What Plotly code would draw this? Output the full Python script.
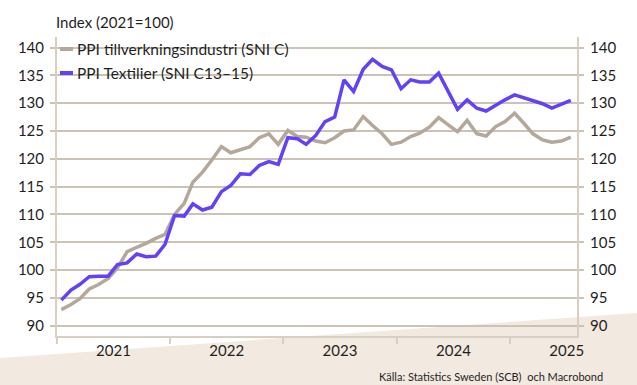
import pandas as pd
import plotly.graph_objects as go

# ---- data ----
months = pd.date_range("2021-01-01", periods=55, freq="MS") + pd.Timedelta(days=14)

ppi_tillverkning = [92.9, 93.8, 94.8, 96.6, 97.4, 98.5, 100.4, 103.3, 104.1, 104.8, 105.7, 106.4,
                    110.0, 112.0, 115.8, 117.6, 119.8, 122.2, 121.1, 121.6, 122.2, 123.8, 124.5, 122.6,
                    125.1, 124.0, 123.9, 123.2, 122.9, 123.8, 125.0, 125.2, 127.6, 126.0, 124.5, 122.6,
                    123.0, 124.0, 124.6, 125.7, 127.4, 126.1, 124.9, 126.9, 124.5, 124.1, 125.8, 126.7,
                    128.2, 126.3, 124.5, 123.4, 123.0, 123.2, 123.9]

ppi_textil = [94.6, 96.4, 97.4, 98.8, 98.9, 98.9, 101.0, 101.3, 102.9, 102.4, 102.5, 104.6,
              109.8, 109.7, 111.9, 110.8, 111.3, 114.1, 115.2, 117.3, 117.2, 118.8, 119.5, 119.0,
              123.8, 123.6, 122.6, 124.2, 126.7, 127.5, 134.2, 132.1, 136.1, 137.9, 136.6, 136.0,
              132.6, 134.2, 133.8, 133.8, 135.4, 132.0, 128.9, 130.6, 129.1, 128.6, 129.7, 130.6,
              131.5, 131.0, 130.4, 129.9, 129.1, 129.8, 130.5]

series_names = ["PPI tillverkningsindustri (SNI C)", "PPI Textilier (SNI C13–15)"]
year_labels = ["2021", "2022", "2023", "2024", "2025"]
year_label_pos = ["2021-07-02", "2022-07-02", "2023-07-02", "2024-07-02", "2025-07-02"]
y_ticks = [90, 95, 100, 105, 110, 115, 120, 125, 130, 135, 140]

GREY = "#B3A899"
BLUE = "#6440F7"
GRID = "#CCC3B7"
AXIS = "#D8CFC3"
TXT = "#1f1f1f"
FONT = "Lato"

fig = go.Figure()
fig.add_trace(go.Scatter(x=months, y=ppi_tillverkning, mode="lines", name=series_names[0],
                         line=dict(color=GREY, width=3.5), yaxis="y", showlegend=False))
fig.add_trace(go.Scatter(x=months, y=ppi_textil, mode="lines", name=series_names[1],
                         line=dict(color=BLUE, width=3.5), yaxis="y2", showlegend=False))

yr = [88.15, 141.9]
L, R, T, B, W, H = 57, 60, 37, 49, 637, 385
pw = W - L - R
ph = H - T - B


def px(xp):
    return (xp - L) / pw


def py(yp):
    return (H - B - yp) / ph


fig.update_layout(
    width=W, height=H,
    margin=dict(l=L, r=R, t=T, b=B, pad=0),
    paper_bgcolor="white",
    plot_bgcolor="rgba(0,0,0,0)",
    font=dict(family=FONT, size=15, color=TXT),
    showlegend=False,
    xaxis=dict(
        type="date",
        range=["2021-01-01", "2025-08-04"],
        tickvals=year_label_pos, ticktext=year_labels,
        ticks="", showgrid=False,
        showline=True, linecolor=AXIS, linewidth=2,
        tickfont=dict(size=15, color=TXT),
        minor=dict(ticks="outside", tick0="2021-01-01", dtick="M12", ticklen=6,
                   tickcolor=AXIS, tickwidth=1.5, showgrid=False),
        zeroline=False,
    ),
    yaxis=dict(
        range=yr, tickvals=y_ticks, ticks="outside", ticklen=5, tickcolor=GRID, tickwidth=1.5,
        showgrid=True, gridcolor=GRID, gridwidth=1.5,
        showline=True, linecolor=AXIS, linewidth=2,
        zeroline=False, tickfont=dict(size=15, color=TXT), ticklabelstandoff=3,
    ),
    yaxis2=dict(
        range=yr, tickvals=y_ticks, ticks="outside", ticklen=5, tickcolor=GRID, tickwidth=1.5,
        overlaying="y", side="right", showgrid=False,
        showline=True, linecolor=AXIS, linewidth=2,
        zeroline=False, tickfont=dict(size=15, color=TXT), ticklabelstandoff=3,
    ),
)

# beige background wedge
x0, x1 = px(0), px(W)
fig.add_shape(type="path",
              path=f"M {x0},{py(358)} L {x1},{py(313)} L {x1},{py(H)} L {x0},{py(H)} Z",
              xref="paper", yref="paper", fillcolor="#F2E9E0", line=dict(width=0), layer="below")

# title
fig.add_annotation(text="Index (2021=100)", xref="paper", yref="paper", x=px(54), y=py(22),
                   xanchor="left", yanchor="middle", showarrow=False, font=dict(size=15, color=TXT))

# legend (manual)
for name, color, ypix in [(series_names[0], GREY, 49), (series_names[1], BLUE, 73)]:
    fig.add_shape(type="line", xref="paper", yref="paper", x0=px(60), x1=px(73), y0=py(ypix), y1=py(ypix),
                  line=dict(color=color, width=4))
    fig.add_annotation(text=name, xref="paper", yref="paper", x=px(75), y=py(ypix),
                       xanchor="left", yanchor="middle", showarrow=False, font=dict(size=15.5, color=TXT))

# source
fig.add_annotation(text="Källa: Statistics Sweden (SCB)  och Macrobond", xref="paper", yref="paper",
                   x=px(605), y=py(376), xanchor="right", yanchor="middle", showarrow=False,
                   font=dict(size=11, color=TXT))

fig.write_html("out.html",
               config={"displayModeBar": False},
               post_script="document.body.style.margin='0';document.body.style.overflow='hidden';")
